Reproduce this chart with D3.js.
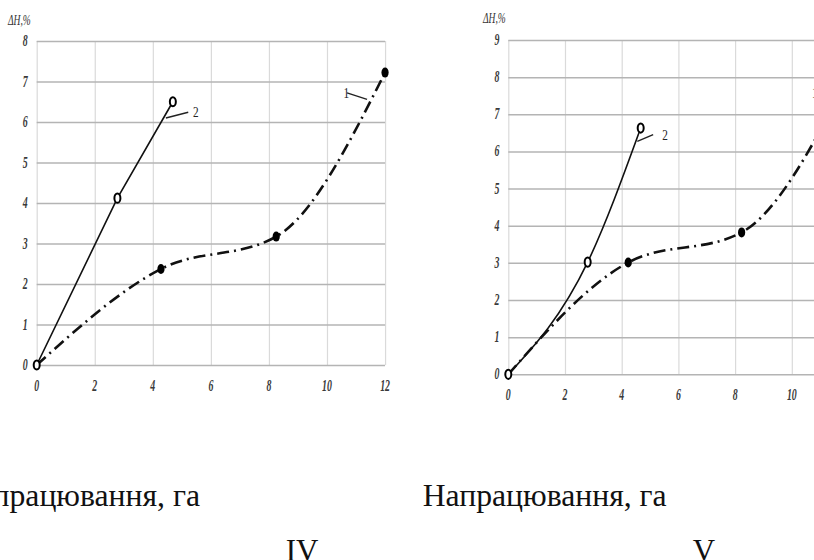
<!DOCTYPE html>
<html>
<head>
<meta charset="utf-8">
<script src="https://cdn.jsdelivr.net/npm/d3@7"></script>
<style>
  html, body { margin: 0; padding: 0; background: #fff; }
  svg { display: block; }
</style>
</head>
<body>
<script>
// ---- data ----
const xTicks = [0, 2, 4, 6, 8, 10, 12];
const yTicksIV = [0, 1, 2, 3, 4, 5, 6, 7, 8];
const yTicksV = [0, 1, 2, 3, 4, 5, 6, 7, 8, 9];

// panel IV
const curve1IV = [[0, 0], [4.28, 2.37], [8.25, 3.17], [12, 7.22]];
const curve2IV = [[0, 0], [2.78, 4.12], [4.69, 6.5]];
// panel V
const curve1V = [[0, 0], [4.23, 3.01], [8.23, 3.82], [12, 8.0]];
const curve2V = [[0, 0], [2.8, 3.02], [4.67, 6.63]];

// curve labels: [text, labelX, labelY, leaderFrom, leaderTo]
const notesIV = [
  ['2', 5.38, 6.25, [4.45, 6.1], [5.22, 6.24]],
  ['1', 10.57, 6.72, [10.69, 6.72], [11.38, 6.56]]
];
const notesV = [
  ['2', 5.43, 6.45, [4.55, 6.27], [5.11, 6.45]],
  ['1', 10.71, 7.57, [10.85, 7.57], [11.5, 7.4]]
];

const yLabel = 'ΔH,%';
const xTitle = 'Напрацювання, га';
const panelNames = ['IV', 'V'];

// ---- drawing ----
const W = 814, H = 560;
const svg = d3.select('body').append('svg')
  .attr('width', W)
  .attr('height', H);

function condensed(g, x, y, txt, o) {
  return g.append('text')
    .attr('transform', `translate(${x},${y}) scale(${o.sx || 1},1)`)
    .attr('text-anchor', o.anchor || 'middle')
    .attr('font-family', '"Liberation Serif", "DejaVu Serif", serif')
    .attr('font-size', o.size)
    .attr('font-style', o.style || 'normal')
    .attr('font-weight', o.weight || 'normal')
    .attr('fill', o.fill || '#111')
    .text(txt);
}

function drawPanel(cfg) {
  const g = svg.append('g');
  const x = d3.scaleLinear().domain([0, 12]).range([cfg.left, cfg.left + 12 * cfg.unitX]);
  const y = d3.scaleLinear().domain([0, cfg.yMax]).range([cfg.bottom, cfg.top]);
  const yTicks = cfg.yTicks;

  // vertical grid (light)
  g.append('g')
    .attr('transform', `translate(0,${cfg.bottom})`)
    .call(d3.axisBottom(x).tickValues(xTicks).tickSize(-(cfg.bottom - cfg.top)).tickFormat(''))
    .call(a => a.select('.domain').remove())
    .call(a => a.selectAll('.tick line').attr('stroke', '#dadada').attr('stroke-width', 1.2));

  // horizontal grid (darker)
  g.append('g')
    .attr('transform', `translate(${x(0)},0)`)
    .call(d3.axisRight(y).tickValues(yTicks).tickSize(x(12) - x(0)).tickFormat(''))
    .call(a => a.select('.domain').remove())
    .call(a => a.selectAll('.tick line').attr('stroke', '#b4b4b4').attr('stroke-width', 1.5));

  // tick labels
  xTicks.forEach(t => condensed(g, x(t), cfg.bottom + 26, t, {
    size: 17, sx: 0.58, style: 'italic', weight: 'bold', fill: '#3a3a3a'
  }));
  yTicks.forEach(t => condensed(g, x(0) - 9, y(t) + 5, t, {
    size: 17, sx: 0.58, style: 'italic', weight: 'bold', fill: '#3a3a3a', anchor: 'end'
  }));

  condensed(g, cfg.ylabX, cfg.ylabY, yLabel, { size: 14, sx: 0.68, style: 'italic', anchor: 'start', fill: '#333' });

  // curve 1: dash-dot, filled points
  const line1 = d3.line().x(d => x(d[0])).y(d => y(d[1])).curve(d3.curveMonotoneX);
  g.append('path')
    .datum(cfg.c1)
    .attr('fill', 'none')
    .attr('stroke', '#111')
    .attr('stroke-width', 2.6)
    .attr('stroke-dasharray', '12,5,2,5')
    .attr('d', line1);

  // curve 2: solid, open points
  const line2 = d3.line().x(d => x(d[0])).y(d => y(d[1])).curve(cfg.c2curve);
  g.append('path')
    .datum(cfg.c2)
    .attr('fill', 'none')
    .attr('stroke', '#111')
    .attr('stroke-width', 1.6)
    .attr('d', line2);

  g.selectAll('.p1').data(cfg.c1.slice(1)).join('ellipse')
    .attr('cx', d => x(d[0])).attr('cy', d => y(d[1]))
    .attr('rx', 3.6).attr('ry', 5)
    .attr('fill', '#000');

  g.selectAll('.p2').data(cfg.c2).join('ellipse')
    .attr('cx', d => x(d[0])).attr('cy', d => y(d[1]))
    .attr('rx', 3).attr('ry', 4.6)
    .attr('fill', '#fff')
    .attr('stroke', '#000')
    .attr('stroke-width', 2);

  // curve labels with leader lines
  cfg.notes.forEach(n => {
    g.append('line')
      .attr('x1', x(n[3][0])).attr('y1', y(n[3][1]))
      .attr('x2', x(n[4][0])).attr('y2', y(n[4][1]))
      .attr('stroke', '#222').attr('stroke-width', 1.4);
    condensed(g, x(n[1]), y(n[2]) + 5, n[0], { size: 15, sx: 0.75, anchor: 'start', fill: '#222' });
  });
}

drawPanel({
  left: 36.7, unitX: 29.03, top: 41, bottom: 365, yMax: 8, yTicks: yTicksIV,
  ylabX: 8, ylabY: 25, c1: curve1IV, c2: curve2IV, c2curve: d3.curveLinear, notes: notesIV
});
drawPanel({
  left: 508.3, unitX: 28.35, top: 40, bottom: 374.3, yMax: 9, yTicks: yTicksV,
  ylabX: 483, ylabY: 23, c1: curve1V, c2: curve2V, c2curve: d3.curveMonotoneX, notes: notesV
});

// bottom captions
[-44, 422.7].forEach(x0 => {
  svg.append('text')
    .attr('x', x0).attr('y', 506)
    .attr('font-family', '"Liberation Serif", serif')
    .attr('font-size', 31)
    .attr('textLength', 244)
    .attr('lengthAdjust', 'spacingAndGlyphs')
    .attr('fill', '#111')
    .text(xTitle);
});
[302, 704].forEach((cx, i) => {
  svg.append('text')
    .attr('x', cx).attr('y', 561)
    .attr('text-anchor', 'middle')
    .attr('font-family', '"Liberation Serif", serif')
    .attr('font-size', 31)
    .attr('fill', '#111')
    .text(panelNames[i]);
});
</script>
</body>
</html>
